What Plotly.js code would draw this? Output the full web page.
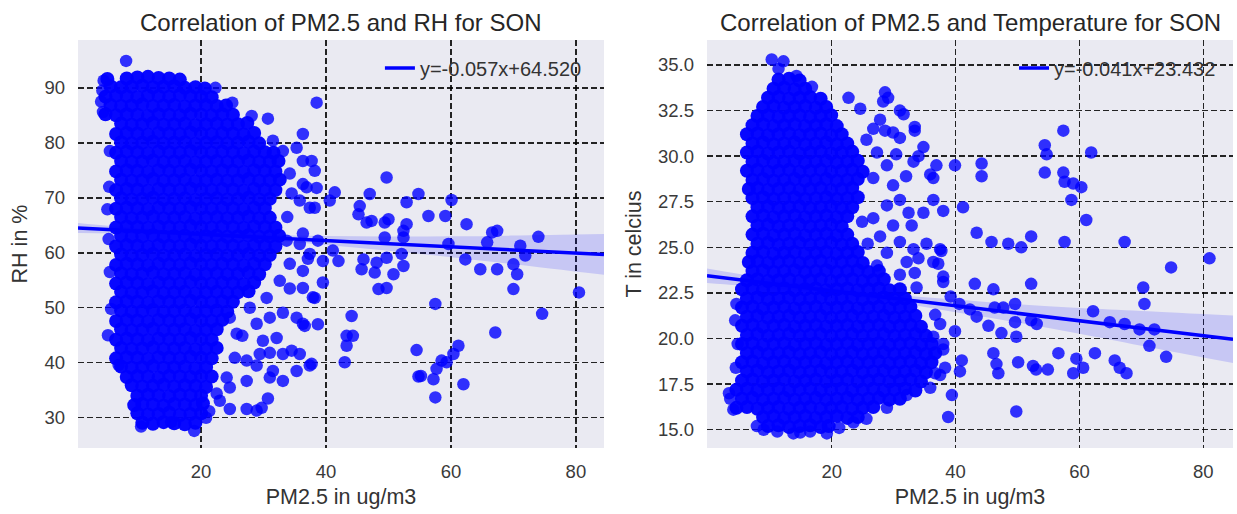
<!DOCTYPE html>
<html><head><meta charset="utf-8">
<script src="https://cdn.plot.ly/plotly-3.0.1.min.js"></script>
<style>html,body{margin:0;padding:0;background:#fff}#chart{width:1237px;height:514px}</style>
</head><body><div id="chart"></div>
<script>
// ---------- tick labels ----------
const pmTicks=[20,40,60,80];
const rhTicks=[30,40,50,60,70,80,90];
const tTicks=[15,17.5,20,22.5,25,27.5,30,32.5,35];

// ---------- PM2.5 vs RH : dense core ----------
const pmRhCore=[
[10.6,29.1],[12.3,28.9],[14.0,29.2],[15.7,29.0],[17.4,28.8],[19.1,29.1],
[9.8,30.8],[11.5,30.6],[13.2,30.7],[14.9,30.9],[16.6,30.5],[18.3,30.7],[20.0,30.8],
[9.3,32.3],[10.6,32.5],[12.3,32.4],[14.0,32.2],[15.7,32.5],[17.4,32.4],[19.1,32.3],[20.3,32.6],
[9.8,34.0],[11.5,34.2],[13.2,34.1],[14.9,33.9],[16.6,34.2],[18.3,34.1],[20.0,34.0],
[8.9,35.9],[10.6,35.7],[12.3,35.8],[14.0,36.0],[15.7,35.7],[17.4,35.9],[19.1,35.8],[20.8,35.6],
[8.1,37.4],[9.8,37.6],[11.5,37.5],[13.2,37.3],[14.9,37.6],[16.6,37.5],[18.3,37.4],[20.0,37.6],[21.7,37.5],
[7.2,39.3],[8.9,39.1],[10.6,39.2],[12.3,39.4],[14.0,39.1],[15.7,39.2],[17.4,39.3],[19.1,39.0],[20.8,39.2],
[6.4,40.8],[8.1,41.0],[9.8,40.9],[11.5,40.7],[13.2,41.0],[14.9,40.9],[16.6,40.8],[18.3,41.1],[20.0,40.9],[21.7,40.8],
[7.2,42.7],[8.9,42.5],[10.6,42.6],[12.3,42.8],[14.0,42.5],[15.7,42.6],[17.4,42.7],[19.1,42.4],[20.8,42.6],[22.5,42.7],
[6.4,44.2],[8.1,44.4],[9.8,44.3],[11.5,44.1],[13.2,44.4],[14.9,44.3],[16.6,44.2],[18.3,44.5],[20.0,44.3],[21.7,44.2],
[7.2,46.1],[8.9,45.9],[10.6,46.0],[12.3,46.2],[14.0,45.9],[15.7,46.0],[17.4,46.1],[19.1,45.8],[20.8,46.0],[22.5,46.1],
[6.4,47.6],[8.1,47.8],[9.8,47.7],[11.5,47.5],[13.2,47.8],[14.9,47.7],[16.6,47.6],[18.3,47.9],[20.0,47.7],[21.7,47.6],[23.4,47.8],
[7.2,49.5],[8.9,49.3],[10.6,49.4],[12.3,49.6],[14.0,49.3],[15.7,49.4],[17.4,49.5],[19.1,49.2],[20.8,49.4],[22.5,49.5],[24.2,49.3],
[6.4,51.0],[8.1,51.2],[9.8,51.1],[11.5,50.9],[13.2,51.2],[14.9,51.1],[16.6,51.0],[18.3,51.3],[20.0,51.1],[21.7,51.0],[23.4,51.2],[25.1,51.1],
[7.2,52.9],[8.9,52.7],[10.6,52.8],[12.3,53.0],[14.0,52.7],[15.7,52.8],[17.4,52.9],[19.1,52.6],[20.8,52.8],[22.5,52.9],[24.2,52.7],[25.9,52.8],[27.6,53.0],
[6.4,54.4],[8.1,54.6],[9.8,54.5],[11.5,54.3],[13.2,54.6],[14.9,54.5],[16.6,54.4],[18.3,54.7],[20.0,54.5],[21.7,54.4],[23.4,54.6],[25.1,54.5],[26.8,54.3],[28.5,54.6],
[7.2,56.3],[8.9,56.1],[10.6,56.2],[12.3,56.4],[14.0,56.1],[15.7,56.2],[17.4,56.3],[19.1,56.0],[20.8,56.2],[22.5,56.3],[24.2,56.1],[25.9,56.2],[27.6,56.4],[29.3,56.1],
[6.4,57.8],[8.1,58.0],[9.8,57.9],[11.5,57.7],[13.2,58.0],[14.9,57.9],[16.6,57.8],[18.3,58.1],[20.0,57.9],[21.7,57.8],[23.4,58.0],[25.1,57.9],[26.8,57.7],[28.5,58.0],[30.2,57.9],
[7.2,59.7],[8.9,59.5],[10.6,59.6],[12.3,59.8],[14.0,59.5],[15.7,59.6],[17.4,59.7],[19.1,59.4],[20.8,59.6],[22.5,59.7],[24.2,59.5],[25.9,59.6],[27.6,59.8],[29.3,59.5],[31.0,59.6],
[6.4,61.2],[8.1,61.4],[9.8,61.3],[11.5,61.1],[13.2,61.4],[14.9,61.3],[16.6,61.2],[18.3,61.5],[20.0,61.3],[21.7,61.2],[23.4,61.4],[25.1,61.3],[26.8,61.1],[28.5,61.4],[30.2,61.3],[31.9,61.2],
[7.2,63.1],[8.9,62.9],[10.6,63.0],[12.3,63.2],[14.0,62.9],[15.7,63.0],[17.4,63.1],[19.1,62.8],[20.8,63.0],[22.5,63.1],[24.2,62.9],[25.9,63.0],[27.6,63.2],[29.3,62.9],[31.0,63.0],[32.5,63.1],
[6.4,64.6],[8.1,64.8],[9.8,64.7],[11.5,64.5],[13.2,64.8],[14.9,64.7],[16.6,64.6],[18.3,64.9],[20.0,64.7],[21.7,64.6],[23.4,64.8],[25.1,64.7],[26.8,64.5],[28.5,64.8],[30.2,64.7],[31.9,64.6],
[7.2,66.5],[8.9,66.3],[10.6,66.4],[12.3,66.6],[14.0,66.3],[15.7,66.4],[17.4,66.5],[19.1,66.2],[20.8,66.4],[22.5,66.5],[24.2,66.3],[25.9,66.4],[27.6,66.6],[29.3,66.3],[31.0,66.4],
[6.4,68.0],[8.1,68.2],[9.8,68.1],[11.5,67.9],[13.2,68.2],[14.9,68.1],[16.6,68.0],[18.3,68.3],[20.0,68.1],[21.7,68.0],[23.4,68.2],[25.1,68.1],[26.8,67.9],[28.5,68.2],[30.2,68.1],
[7.2,69.9],[8.9,69.7],[10.6,69.8],[12.3,70.0],[14.0,69.7],[15.7,69.8],[17.4,69.9],[19.1,69.6],[20.8,69.8],[22.5,69.9],[24.2,69.7],[25.9,69.8],[27.6,70.0],[29.3,69.7],[31.0,69.8],
[6.4,71.4],[8.1,71.6],[9.8,71.5],[11.5,71.3],[13.2,71.6],[14.9,71.5],[16.6,71.4],[18.3,71.7],[20.0,71.5],[21.7,71.4],[23.4,71.6],[25.1,71.5],[26.8,71.3],[28.5,71.6],[30.2,71.5],[31.9,71.4],
[7.2,73.3],[8.9,73.1],[10.6,73.2],[12.3,73.4],[14.0,73.1],[15.7,73.2],[17.4,73.3],[19.1,73.0],[20.8,73.2],[22.5,73.3],[24.2,73.1],[25.9,73.2],[27.6,73.4],[29.3,73.1],[31.0,73.2],[32.6,73.3],
[6.4,74.8],[8.1,75.0],[9.8,74.9],[11.5,74.7],[13.2,75.0],[14.9,74.9],[16.6,74.8],[18.3,75.1],[20.0,74.9],[21.7,74.8],[23.4,75.0],[25.1,74.9],[26.8,74.7],[28.5,75.0],[30.2,74.9],[31.9,74.8],
[7.2,76.7],[8.9,76.5],[10.6,76.6],[12.3,76.8],[14.0,76.5],[15.7,76.6],[17.4,76.7],[19.1,76.4],[20.8,76.6],[22.5,76.7],[24.2,76.5],[25.9,76.6],[27.6,76.8],[29.3,76.5],[31.0,76.6],[32.4,76.7],
[6.4,78.2],[8.1,78.4],[9.8,78.3],[11.5,78.1],[13.2,78.4],[14.9,78.3],[16.6,78.2],[18.3,78.5],[20.0,78.3],[21.7,78.2],[23.4,78.4],[25.1,78.3],[26.8,78.1],[28.5,78.4],[30.2,78.3],[31.6,78.2],
[7.2,80.1],[8.9,79.9],[10.6,80.0],[12.3,80.2],[14.0,79.9],[15.7,80.0],[17.4,80.1],[19.1,79.8],[20.8,80.0],[22.5,80.1],[24.2,79.9],[25.9,80.0],[27.6,80.2],[29.3,79.9],
[6.4,81.6],[8.1,81.8],[9.8,81.7],[11.5,81.5],[13.2,81.8],[14.9,81.7],[16.6,81.6],[18.3,81.9],[20.0,81.7],[21.7,81.6],[23.4,81.8],[25.1,81.7],[26.8,81.5],[28.5,81.8],
[7.2,83.5],[8.9,83.3],[10.6,83.4],[12.3,83.6],[14.0,83.3],[15.7,83.4],[17.4,83.5],[19.1,83.2],[20.8,83.4],[22.5,83.5],[24.2,83.3],[25.9,83.4],[27.4,83.6],
[4.7,85.2],[6.4,85.0],[8.1,85.2],[9.8,85.1],[11.5,84.9],[13.2,85.2],[14.9,85.1],[16.6,85.0],[18.3,85.3],[20.0,85.1],[21.7,85.0],[23.4,85.2],[25.1,85.1],
[5.5,86.9],[7.2,86.7],[8.9,86.8],[10.6,87.0],[12.3,86.7],[14.0,86.8],[15.7,86.9],[17.4,86.6],[19.1,86.8],[20.8,86.9],[22.5,86.7],[24.0,86.8],
[4.7,88.4],[6.4,88.6],[8.1,88.5],[9.8,88.3],[11.5,88.6],[13.2,88.5],[14.9,88.4],[16.6,88.7],[18.3,88.5],[20.0,88.4],[21.7,88.3],
[5.5,90.3],[7.2,90.1],[8.9,90.2],[10.6,90.4],[12.3,90.1],[14.0,90.2],[15.7,90.3],[17.4,90.0],[19.1,90.1],[20.6,89.9],
[5.0,91.6],[8.1,91.7],[9.8,91.9],[11.5,92.0],[13.2,91.8],[14.9,91.7],[16.6,91.5]
];
// ---------- PM2.5 vs RH : sparse points ----------
const pmRhSparse=[
[8.0,94.9],[4.4,91.3],[4.2,89.5],[4.0,87.5],[4.3,85.6],[5.0,67.9],[5.4,56.5],[5.1,45.0],[5.6,49.8],[6.8,39.6],
[10.4,28.4],[18.9,27.6],[15.2,29.2],[20.8,30.0],[21.3,31.2],[22.3,90.0],[25.0,87.3],[28.1,84.9],[30.7,84.4],[5.2,62.5],[5.3,72.0],[5.4,78.5],
[34.2,58.0],[36.3,56.7],[37.4,59.8],[33.7,62.2],[36.3,63.5],[38.7,62.2],[35.8,69.5],[37.4,68.2],[36.3,72.5],[38.5,71.8],
[34.2,74.4],[36.3,76.7],[33.1,78.5],[35.3,79.1],[31.5,80.4],[37.1,58.9],[35.8,61.6],[36.9,71.9],[38.2,68.2],[33.8,66.5],[34.5,70.8],
[38.5,87.3],[36.3,81.6],[37.7,76.7],[38.2,74.9],[49.7,73.7],[41.4,71.0],[40.6,69.5],[47.0,70.7],[54.8,70.7],[60.1,69.6],
[45.4,68.5],[45.2,67.0],[52.9,69.2],[56.4,66.7],[59.1,66.7],[62.5,65.2],[46.5,65.5],[47.3,65.8],[50.0,66.1],[49.4,65.5],
[52.9,65.2],[52.4,64.0],[66.6,63.7],[67.4,64.0],[74.0,62.9],[49.4,62.8],[52.4,62.8],[65.8,61.9],[71.1,61.3],[71.9,59.5],
[59.6,61.6],[41.1,60.4],[42.0,58.5],[39.5,58.5],[46.0,58.8],[45.7,57.0],[48.1,58.2],[47.8,56.4],[49.7,59.1],[52.1,59.8],
[52.4,57.6],[50.8,56.1],[62.3,58.8],[64.7,57.0],[67.4,57.0],[70.0,57.9],[70.6,56.1],[70.0,53.4],[48.4,53.4],[49.7,53.6],
[37.9,51.9],[39.5,54.6],[57.5,50.7],[80.5,52.8],[74.6,48.9],[44.1,48.5],[43.3,44.9],[44.3,44.9],[43.3,43.1],[43.0,40.1],
[67.1,45.5],[54.5,42.3],[54.8,37.5],[55.2,37.6],[57.2,37.0],[57.5,33.7],[58.5,40.4],[57.7,38.9],[59.3,40.1],[60.4,41.6],
[61.2,43.1],[62.0,36.1],[37.7,39.8],[35.8,41.6],[38.7,47.0],[36.6,46.7],
[24.6,48.2],[26.6,44.9],[28.9,47.1],[31.0,48.2],[33.1,49.1],[35.3,48.2],[36.3,47.1],[34.2,53.5],[36.3,53.6],[38.2,51.8],
[32.6,54.9],[30.5,51.8],[27.8,50.0],[25.7,45.3],[29.9,44.0],[32.1,44.5],[33.1,41.6],[34.5,42.2],[31.0,41.8],[29.4,41.6],
[27.3,40.4],[25.4,40.9],[31.5,38.5],[35.3,38.5],[37.4,39.5],[33.1,36.7],[31.0,37.3],[28.9,39.5],[27.3,36.7],[24.1,37.3],
[24.6,35.5],[23.0,33.1],[24.6,31.6],[27.3,31.6],[28.9,31.3],[29.7,31.8],[30.7,33.5],[22.5,34.4]
];

// ---------- PM2.5 vs Temperature : dense core ----------
const pmTCore=[
[9.7,15.2],[11.4,15.25],[13.1,15.15],[14.8,15.2],[16.5,15.25],[18.2,15.15],[19.5,15.2],
[8.9,15.7],[10.6,15.75],[12.3,15.65],[14.0,15.7],[15.7,15.75],[17.4,15.65],[19.1,15.7],[20.8,15.75],[22.5,15.65],[24.2,15.7],
[4.6,16.2],[6.3,16.25],[8.0,16.15],[9.7,16.2],[11.4,16.25],[13.1,16.15],[14.8,16.2],[16.5,16.25],[18.2,16.15],[19.9,16.2],[21.6,16.25],[23.3,16.15],[25.0,16.2],[26.7,16.25],
[5.5,16.7],[7.2,16.75],[8.9,16.65],[10.6,16.7],[12.3,16.75],[14.0,16.65],[15.7,16.7],[17.4,16.75],[19.1,16.65],[20.8,16.7],[22.5,16.75],[24.2,16.65],[25.9,16.7],[27.6,16.75],[29.3,16.65],[31.0,16.7],
[4.6,17.2],[6.3,17.25],[8.0,17.15],[9.7,17.2],[11.4,17.25],[13.1,17.15],[14.8,17.2],[16.5,17.25],[18.2,17.15],[19.9,17.2],[21.6,17.25],[23.3,17.15],[25.0,17.2],[26.7,17.25],[28.4,17.15],[30.1,17.2],[31.8,17.25],[33.5,17.15],
[5.5,17.7],[7.2,17.75],[8.9,17.65],[10.6,17.7],[12.3,17.75],[14.0,17.65],[15.7,17.7],[17.4,17.75],[19.1,17.65],[20.8,17.7],[22.5,17.75],[24.2,17.65],[25.9,17.7],[27.6,17.75],[29.3,17.65],[31.0,17.7],[32.7,17.75],[34.4,17.65],
[6.3,18.2],[8.0,18.25],[9.7,18.15],[11.4,18.2],[13.1,18.25],[14.8,18.15],[16.5,18.2],[18.2,18.25],[19.9,18.15],[21.6,18.2],[23.3,18.25],[25.0,18.15],[26.7,18.2],[28.4,18.25],[30.1,18.15],[31.8,18.2],[33.5,18.25],[35.2,18.15],
[5.5,18.7],[7.2,18.75],[8.9,18.65],[10.6,18.7],[12.3,18.75],[14.0,18.65],[15.7,18.7],[17.4,18.75],[19.1,18.65],[20.8,18.7],[22.5,18.75],[24.2,18.65],[25.9,18.7],[27.6,18.75],[29.3,18.65],[31.0,18.7],[32.7,18.75],[34.4,18.65],[36.1,18.7],
[6.3,19.2],[8.0,19.25],[9.7,19.15],[11.4,19.2],[13.1,19.25],[14.8,19.15],[16.5,19.2],[18.2,19.25],[19.9,19.15],[21.6,19.2],[23.3,19.25],[25.0,19.15],[26.7,19.2],[28.4,19.25],[30.1,19.15],[31.8,19.2],[33.5,19.25],[35.2,19.15],[36.7,19.2],
[5.5,19.7],[7.2,19.75],[8.9,19.65],[10.6,19.7],[12.3,19.75],[14.0,19.65],[15.7,19.7],[17.4,19.75],[19.1,19.65],[20.8,19.7],[22.5,19.75],[24.2,19.65],[25.9,19.7],[27.6,19.75],[29.3,19.65],[31.0,19.7],[32.7,19.75],[34.4,19.65],[36.1,19.7],
[6.3,20.2],[8.0,20.25],[9.7,20.15],[11.4,20.2],[13.1,20.25],[14.8,20.15],[16.5,20.2],[18.2,20.25],[19.9,20.15],[21.6,20.2],[23.3,20.25],[25.0,20.15],[26.7,20.2],[28.4,20.25],[30.1,20.15],[31.8,20.2],[33.5,20.25],[35.2,20.15],
[5.5,20.7],[7.2,20.75],[8.9,20.65],[10.6,20.7],[12.3,20.75],[14.0,20.65],[15.7,20.7],[17.4,20.75],[19.1,20.65],[20.8,20.7],[22.5,20.75],[24.2,20.65],[25.9,20.7],[27.6,20.75],[29.3,20.65],[31.0,20.7],[32.7,20.75],[34.4,20.65],
[6.3,21.2],[8.0,21.25],[9.7,21.15],[11.4,21.2],[13.1,21.25],[14.8,21.15],[16.5,21.2],[18.2,21.25],[19.9,21.15],[21.6,21.2],[23.3,21.25],[25.0,21.15],[26.7,21.2],[28.4,21.25],[30.1,21.15],[31.8,21.2],[33.5,21.25],
[5.5,21.7],[7.2,21.75],[8.9,21.65],[10.6,21.7],[12.3,21.75],[14.0,21.65],[15.7,21.7],[17.4,21.75],[19.1,21.65],[20.8,21.7],[22.5,21.75],[24.2,21.65],[25.9,21.7],[27.6,21.75],[29.3,21.65],[31.0,21.7],[32.7,21.75],
[6.3,22.2],[8.0,22.25],[9.7,22.15],[11.4,22.2],[13.1,22.25],[14.8,22.15],[16.5,22.2],[18.2,22.25],[19.9,22.15],[21.6,22.2],[23.3,22.25],[25.0,22.15],[26.7,22.2],[28.4,22.25],[30.1,22.15],[31.8,22.2],
[5.5,22.7],[7.2,22.75],[8.9,22.65],[10.6,22.7],[12.3,22.75],[14.0,22.65],[15.7,22.7],[17.4,22.75],[19.1,22.65],[20.8,22.7],[22.5,22.75],[24.2,22.65],[25.9,22.7],[27.6,22.75],[29.3,22.65],[31.0,22.7],
[6.3,23.2],[8.0,23.25],[9.7,23.15],[11.4,23.2],[13.1,23.25],[14.8,23.15],[16.5,23.2],[18.2,23.25],[19.9,23.15],[21.6,23.2],[23.3,23.25],[25.0,23.15],[26.7,23.2],[28.4,23.25],
[7.2,23.7],[8.9,23.75],[10.6,23.65],[12.3,23.7],[14.0,23.75],[15.7,23.65],[17.4,23.7],[19.1,23.75],[20.8,23.65],[22.5,23.7],[24.2,23.75],[25.9,23.65],[27.6,23.7],
[6.6,24.2],[8.0,24.25],[9.7,24.15],[11.4,24.2],[13.1,24.25],[14.8,24.15],[16.5,24.2],[18.2,24.25],[19.9,24.15],[21.6,24.2],[23.3,24.25],[25.0,24.15],
[7.2,24.7],[8.9,24.75],[10.6,24.65],[12.3,24.7],[14.0,24.75],[15.7,24.65],[17.4,24.7],[19.1,24.75],[20.8,24.65],[22.5,24.7],[24.2,24.75],
[8.0,25.2],[9.7,25.25],[11.4,25.15],[13.1,25.2],[14.8,25.25],[16.5,25.15],[18.2,25.2],[19.9,25.25],[21.6,25.15],[23.3,25.2],
[7.2,25.7],[8.9,25.75],[10.6,25.65],[12.3,25.7],[14.0,25.75],[15.7,25.65],[17.4,25.7],[19.1,25.75],[20.8,25.65],[22.5,25.7],
[8.0,26.2],[9.7,26.25],[11.4,26.15],[13.1,26.2],[14.8,26.25],[16.5,26.15],[18.2,26.2],[19.9,26.25],[21.6,26.15],
[7.2,26.7],[8.9,26.75],[10.6,26.65],[12.3,26.7],[14.0,26.75],[15.7,26.65],[17.4,26.7],[19.1,26.75],[20.8,26.65],[22.5,26.7],
[8.0,27.2],[9.7,27.25],[11.4,27.15],[13.1,27.2],[14.8,27.25],[16.5,27.15],[18.2,27.2],[19.9,27.25],[21.6,27.15],[23.3,27.2],
[7.2,27.7],[8.9,27.75],[10.6,27.65],[12.3,27.7],[14.0,27.75],[15.7,27.65],[17.4,27.7],[19.1,27.75],[20.8,27.65],[22.5,27.7],[24.2,27.75],
[6.6,28.2],[8.0,28.25],[9.7,28.15],[11.4,28.2],[13.1,28.25],[14.8,28.15],[16.5,28.2],[18.2,28.25],[19.9,28.15],[21.6,28.2],[23.3,28.25],
[7.2,28.7],[8.9,28.75],[10.6,28.65],[12.3,28.7],[14.0,28.75],[15.7,28.65],[17.4,28.7],[19.1,28.75],[20.8,28.65],[22.5,28.7],[24.2,28.75],
[6.3,29.2],[8.0,29.25],[9.7,29.15],[11.4,29.2],[13.1,29.25],[14.8,29.15],[16.5,29.2],[18.2,29.25],[19.9,29.15],[21.6,29.2],[23.3,29.25],[25.0,29.15],
[7.2,29.7],[8.9,29.75],[10.6,29.65],[12.3,29.7],[14.0,29.75],[15.7,29.65],[17.4,29.7],[19.1,29.75],[20.8,29.65],[22.5,29.7],[24.2,29.75],
[6.3,30.2],[8.0,30.25],[9.7,30.15],[11.4,30.2],[13.1,30.25],[14.8,30.15],[16.5,30.2],[18.2,30.25],[19.9,30.15],[21.6,30.2],[23.3,30.25],
[7.2,30.7],[8.9,30.75],[10.6,30.65],[12.3,30.7],[14.0,30.75],[15.7,30.65],[17.4,30.7],[19.1,30.75],[20.8,30.65],[22.5,30.7],
[6.3,31.2],[8.0,31.25],[9.7,31.15],[11.4,31.2],[13.1,31.25],[14.8,31.15],[16.5,31.2],[18.2,31.25],[19.9,31.15],[21.6,31.2],
[7.2,31.7],[8.9,31.75],[10.6,31.65],[12.3,31.7],[14.0,31.75],[15.7,31.65],[17.4,31.7],[19.1,31.75],[20.8,31.65],
[8.0,32.2],[9.7,32.25],[11.4,32.15],[13.1,32.2],[14.8,32.25],[16.5,32.15],[18.2,32.2],[19.9,32.25],
[8.9,32.7],[10.6,32.75],[12.3,32.65],[14.0,32.7],[15.7,32.75],[17.4,32.65],[19.1,32.7],
[9.7,33.2],[11.4,33.25],[13.1,33.15],[14.8,33.2],[16.5,33.25],[18.2,33.15],
[10.6,33.7],[12.3,33.75],[14.0,33.65],[15.7,33.7],
[11.4,34.2],[13.1,34.25],[14.8,34.15]
];
// ---------- PM2.5 vs Temperature : sparse points ----------
const pmTSparse=[
[10.3,35.3],[12.2,35.2],[11.4,34.8],[14.3,34.4],[16.8,33.8],
[3.6,16.7],[4.1,16.1],[3.4,17.0],[4.6,21.9],[4.4,21.0],[4.8,19.7],[4.5,18.4],
[7.9,15.2],[9.0,15.0],[11.2,14.9],[13.8,14.8],[14.9,14.85],[16.5,14.9],[19.2,14.8],[21.2,15.1],[23.5,15.4],[25.6,15.6],[28.9,16.2],[32.1,16.9],[35.9,17.3],[37.5,18.0],
[22.7,33.2],[24.6,32.6],[28.6,33.5],[29.1,33.2],[28.3,33.0],[31.0,32.5],[31.6,32.3],[27.8,32.0],[26.7,31.5],[28.6,31.4],
[29.9,31.3],[31.0,31.0],[33.4,31.6],[33.4,31.4],[34.8,30.5],[34.0,30.0],[33.2,29.7],[36.9,29.5],[39.9,29.5],[44.2,29.6],
[44.2,28.9],[35.9,29.0],[36.4,28.8],[36.4,27.6],[38.0,27.0],[41.2,27.2],[32.4,26.9],[32.9,26.2],[34.8,26.9],[43.4,25.8],
[45.8,25.3],[33.2,24.9],[35.3,25.2],[37.5,24.9],[34.0,24.4],[36.4,24.2],[38.0,23.4],[33.4,23.6],[37.7,24.8],[37.2,24.1],
[38.0,23.1],[43.1,23.0],[46.1,22.7],[52.2,23.0],[70.3,22.8],[70.5,21.9],
[25.6,30.9],[27.3,30.2],[28.9,29.5],[26.7,28.8],[29.9,28.4],[31.0,27.6],[28.9,27.3],[26.7,26.6],[29.9,26.2],[27.8,25.6],
[31.0,25.3],[28.9,24.7],[32.1,24.2],[31.0,23.5],[33.7,22.8],[27.3,24.0],[25.8,25.2],[24.9,26.4],[30.4,30.1],[32.0,28.9],
[54.4,30.6],[54.7,30.1],[57.4,31.4],[61.9,30.2],[54.4,29.1],[57.4,29.1],[57.6,28.6],[59.0,28.5],[60.3,28.3],[58.7,27.6],
[61.1,26.5],[48.5,25.2],[50.6,25.0],[52.2,25.6],[57.6,25.3],[67.3,25.3],[81.0,24.4],[74.8,23.9],[62.2,21.5],[64.9,20.9],
[67.3,20.8],[69.7,20.5],[72.1,20.5],[71.3,19.6],[74.0,19.0],[56.6,19.2],[59.5,18.9],[60.6,18.4],[59.0,18.1],[62.5,19.2],
[65.7,18.8],[66.5,18.4],[67.6,18.1],[46.1,19.2],[46.6,18.6],[46.9,18.1],[50.1,18.7],[52.5,18.5],[53.0,18.3],[54.9,18.3],
[41.0,18.8],[40.7,18.2],[39.4,16.9],[38.8,15.7],[49.8,16.0],[43.4,21.2],[45.3,20.7],[47.4,20.3],[49.6,20.9],[49.8,20.1],
[52.2,21.0],[53.1,20.8],[46.3,21.7],[47.7,21.7],[49.6,21.9],[42.3,21.6],[36.7,21.3],[37.5,20.8],[39.9,20.4],[36.4,20.1],
[38.0,19.7],[38.0,19.4],[38.3,18.4],[36.7,18.1],[40.6,21.9],[39.2,22.3]
];

// ---------- regression lines and 95% bands ----------
const rhLabel='y=-0.057x+64.520';
const rhFitX=[0.3,84.5], rhFitY=[64.50,59.70];
const rhBandX=[0.3,10,20,30,40,50,60,70,84.5];
const rhBandHi=[65.40,64.45,63.68,63.26,63.04,62.97,63.00,63.13,63.40];
const rhBandLo=[63.60,63.45,63.08,62.36,61.44,60.37,59.20,57.93,56.00];
const tLabel='y=-0.041x+23.432';
const tFitX=[-0.15,84.8], tFitY=[23.44,19.96];
const tBandX=[-0.15,10,20,30,40,50,60,70,84.8];
const tBandHi=[23.84,23.27,22.76,22.40,22.14,21.88,21.67,21.51,21.26];
const tBandLo=[23.04,22.77,22.46,22.00,21.44,20.88,20.27,19.61,18.66];

// ---------- drawing ----------
const FONT='"Liberation Sans", Arial, sans-serif';
const BLUE='#0000ff';
// the core stands for many stacked points, so it is drawn nearly opaque
function scatterTrace(pts, xa, ya, op, sz){
  return {type:'scatter',mode:'markers',x:pts.map(p=>p[0]),y:pts.map(p=>p[1]),xaxis:xa,yaxis:ya,
    marker:{size:sz,color:BLUE,opacity:op,line:{width:0}},showlegend:false,hoverinfo:'skip'};
}
function bandTraces(bx, lo, hi, xa, ya){
  return [
    {type:'scatter',mode:'lines',x:bx,y:lo,xaxis:xa,yaxis:ya,line:{width:0,shape:'spline'},showlegend:false,hoverinfo:'skip'},
    {type:'scatter',mode:'lines',x:bx,y:hi,xaxis:xa,yaxis:ya,line:{width:0,shape:'spline'},fill:'tonexty',fillcolor:'rgba(0,0,255,0.15)',showlegend:false,hoverinfo:'skip'}
  ];
}
const data=[
  scatterTrace(pmRhSparse,'x','y',0.8,12.5),
  scatterTrace(pmRhCore,'x','y',0.97,14),
  ...bandTraces(rhBandX,rhBandLo,rhBandHi,'x','y'),
  {type:'scatter',mode:'lines',x:rhFitX,y:rhFitY,xaxis:'x',yaxis:'y',name:rhLabel,line:{color:BLUE,width:3.5},legend:'legend',hoverinfo:'skip'},
  scatterTrace(pmTSparse,'x2','y2',0.8,12.5),
  scatterTrace(pmTCore,'x2','y2',0.97,14),
  ...bandTraces(tBandX,tBandLo,tBandHi,'x2','y2'),
  {type:'scatter',mode:'lines',x:tFitX,y:tFitY,xaxis:'x2',yaxis:'y2',name:tLabel,line:{color:BLUE,width:3.5},legend:'legend2',hoverinfo:'skip'}
];
const tickFont={family:FONT,size:18.5,color:'#3a3a3a'};
const labFont={family:FONT,size:21.5,color:'#333'};
const base={showgrid:true,gridcolor:'rgba(0,0,0,0.85)',gridwidth:1.4,griddash:'6px,3px',zeroline:false,showline:false,
  ticks:'',tickfont:tickFont,fixedrange:true,automargin:false};
const layout={
  width:1237,height:514,margin:{l:78,r:4,t:40,b:66},
  paper_bgcolor:'#ffffff',plot_bgcolor:'#EAEAF2',font:{family:FONT,color:'#333'},
  xaxis:Object.assign({},base,{domain:[0,0.4554],range:[0.3,84.5],tickvals:pmTicks,anchor:'y',ticklabelstandoff:10,
    title:{text:'PM2.5 in ug/m3',font:labFont,standoff:8}}),
  yaxis:Object.assign({},base,{domain:[0,1],range:[24.5,98.7],tickvals:rhTicks,anchor:'x',ticklabelstandoff:12,
    title:{text:'RH in %',font:labFont,standoff:10}}),
  xaxis2:Object.assign({},base,{domain:[0.5446,1],range:[-0.15,84.8],tickvals:pmTicks,anchor:'y2',ticklabelstandoff:10,
    title:{text:'PM2.5 in ug/m3',font:labFont,standoff:8}}),
  yaxis2:Object.assign({},base,{domain:[0,1],range:[14.0,36.37],tickvals:tTicks,tickformat:'.1f',anchor:'x2',ticklabelstandoff:12,
    title:{text:'T in celcius',font:labFont,standoff:10}}),
  annotations:[
    {text:'Correlation of PM2.5 and RH for SON',xref:'paper',yref:'paper',x:0.2277,y:1.044,xanchor:'center',yanchor:'middle',showarrow:false,font:{family:FONT,size:24,color:'#262626'}},
    {text:'Correlation of PM2.5 and Temperature for SON',xref:'paper',yref:'paper',x:0.7723,y:1.044,xanchor:'center',yanchor:'middle',showarrow:false,font:{family:FONT,size:24,color:'#262626'}}
  ],
  legend:{x:0.2614,y:0.9314,xanchor:'left',yanchor:'middle',bgcolor:'rgba(0,0,0,0)',borderwidth:0,font:{family:FONT,size:20,color:'#333'}},
  legend2:{x:0.8104,y:0.9314,xanchor:'left',yanchor:'middle',bgcolor:'rgba(0,0,0,0)',borderwidth:0,font:{family:FONT,size:20,color:'#333'}},
  hovermode:false
};
Plotly.newPlot('chart',data,layout,{staticPlot:true,displayModeBar:false});
</script></body></html>
